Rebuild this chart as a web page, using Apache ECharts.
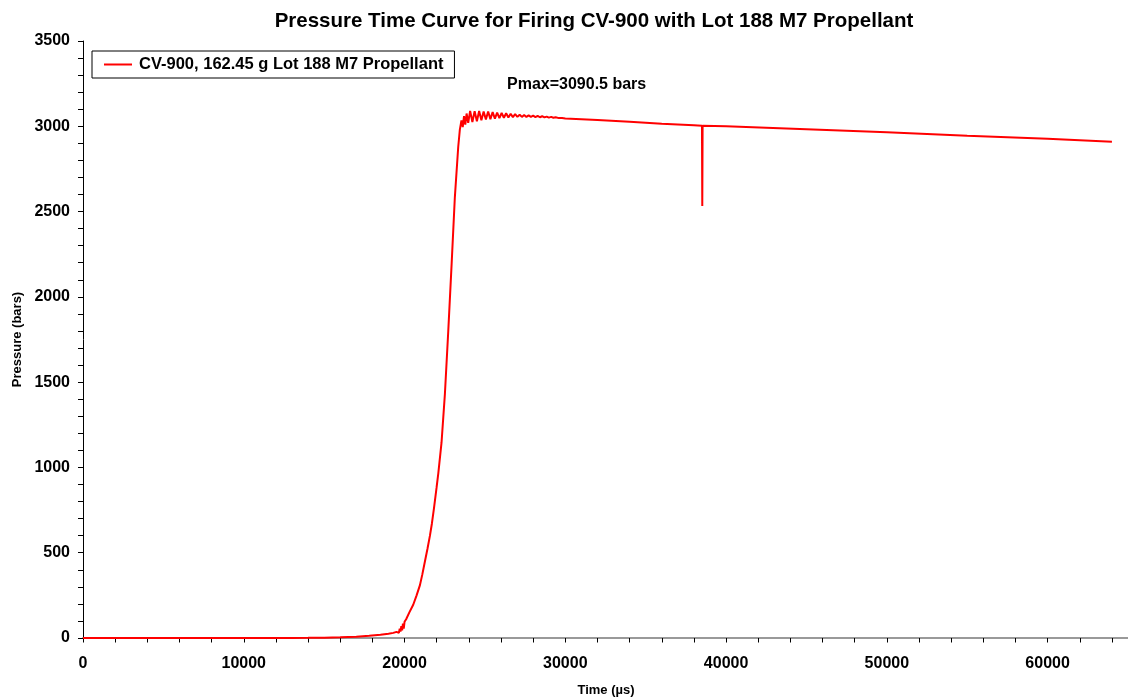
<!DOCTYPE html>
<html>
<head>
<meta charset="utf-8">
<script src="https://cdn.jsdelivr.net/npm/echarts@6/dist/echarts.min.js"></script>
<style>
html,body{margin:0;padding:0;background:#fff;}
#chart{width:1128px;height:700px;}
</style>
</head>
<body>
<div id="chart"></div>
<script>
// ---- data (time in µs, pressure in bars) ----
const chartTitle = "Pressure Time Curve for Firing CV-900 with Lot 188 M7 Propellant";
const seriesName = "CV-900, 162.45 g Lot 188 M7 Propellant";
const annotation = "Pmax=3090.5 bars";
const xAxisName = "Time (µs)";
const yAxisName = "Pressure (bars)";

const riseTime = [0, 10000, 13000, 14000, 15000, 16000, 17000, 17800, 18500, 19000, 19300, 19500,
  19600, 19650, 19700, 19750, 19800, 19850, 19900, 19950, 20000, 20100, 20300, 20540, 20750, 20958,
  21100, 21270, 21430, 21580, 21700, 21830, 21990, 22100, 22300, 22510, 22720, 22930, 23130, 23340,
  23400, 23440];
const risePressure = [0, 0, 0.5, 1, 2, 4, 8, 13, 19, 25, 30, 36,
  42, 30, 55, 38, 70, 45, 85, 55, 95, 110, 150, 195, 250, 310,
  370, 450, 525, 600, 670, 760, 880, 965, 1145, 1430, 1800, 2195, 2585, 2880,
  2940, 2980];

const peakTime = [23540, 23620, 23700, 23780, 23860, 23960, 24080, 24220, 24360, 24500, 24640, 24780,
  24920, 25060, 25200, 25340, 25480, 25620, 25760, 25900, 26040, 26180, 26320, 26460, 26600, 26740,
  26880, 27020, 27160, 27300, 27440, 27580, 27720, 27860, 28000, 28140, 28280, 28420, 28560, 28700,
  28840, 28980, 29120, 29260, 29400, 29600, 29800, 30000];
const peakPressure = [3035, 2995, 3060, 3010, 3075, 3020, 3090.5, 3025, 3088, 3030, 3090, 3035,
  3086, 3040, 3087, 3042, 3083, 3045, 3080, 3048, 3078, 3050, 3076, 3052, 3073, 3054,
  3071, 3055, 3068, 3055, 3066, 3055, 3064, 3055, 3062, 3054, 3061, 3053, 3059, 3052,
  3057, 3051, 3055, 3050, 3053, 3048, 3048, 3045];

const tailTime = [32000, 34000, 36000, 38000, 38500, 38520, 38540, 40000, 45000, 50000, 55000, 60000, 64000];
const tailPressure = [3037, 3027, 3015, 3006, 3003, 2532, 3003, 3000, 2983, 2965, 2945, 2927, 2910];

const xTicks = [0, 10000, 20000, 30000, 40000, 50000, 60000];
const yTicks = [0, 500, 1000, 1500, 2000, 2500, 3000, 3500];

// ---- build ----
const allTime = riseTime.concat(peakTime, tailTime);
const allPressure = risePressure.concat(peakPressure, tailPressure);
const seriesData = allTime.map((t, i) => [t, allPressure[i]]);

const FONT = "'Liberation Sans', Arial, Helvetica, sans-serif";
const chart = echarts.init(document.getElementById('chart'), null, {renderer: 'canvas'});
chart.setOption({
  animation: false,
  backgroundColor: '#fff',
  grid: {left: 83, top: 41, bottom: 62, right: 0},
  title: {
    text: chartTitle,
    left: 589, top: 6, textAlign: 'center',
    textStyle: {fontFamily: FONT, fontSize: 20.5, fontWeight: 'bold', color: '#000'}
  },
  legend: {
    left: 92, top: 51,
    data: [{name: seriesName, icon: 'rect'}],
    itemWidth: 28, itemHeight: 2, itemGap: 0,
    padding: [5, 11, 5, 12],
    borderColor: '#000', borderWidth: 1, borderRadius: 0,
    backgroundColor: '#fff',
    textStyle: {fontFamily: FONT, fontSize: 16.5, fontWeight: 'bold', color: '#000', padding: [0, 0, 0, 2]}
  },
  graphic: [{
    type: 'text', left: 507, top: 77,
    style: {text: annotation, font: "bold 16px " + FONT, fill: '#000'}
  }, {
    type: 'text', x: 606, y: 690,
    style: {text: xAxisName, font: "bold 13px " + FONT, fill: '#000', align: 'center', verticalAlign: 'middle'}
  }],
  xAxis: [{
    type: 'value', min: 0, max: 65000, interval: 2000,
    axisLine: {show: true, onZero: false, lineStyle: {color: '#000', width: 1}},
    axisTick: {show: true, inside: false, length: 4.5, lineStyle: {color: '#000'}},
    splitLine: {show: false},
    axisLabel: {margin: 18, fontFamily: FONT, fontSize: 16, fontWeight: 'bold', color: '#000',
      showMaxLabel: false,
      formatter: v => xTicks.indexOf(v) >= 0 ? String(v) : ''}
  }, {
    type: 'value', min: 0, max: 65000, position: 'top',
    axisLine: {show: true, lineStyle: {color: '#999', width: 2}},
    axisTick: {show: false}, axisLabel: {show: false}, splitLine: {show: false}
  }],
  yAxis: {
    type: 'value', min: 0, max: 3500, interval: 500,
    name: yAxisName, nameLocation: 'middle', nameGap: 59,
    nameTextStyle: {fontFamily: FONT, fontSize: 13, fontWeight: 'bold', color: '#000'},
    axisLine: {show: true, lineStyle: {color: '#000', width: 1}},
    axisTick: {show: true, inside: false, length: 5, lineStyle: {color: '#000'}},
    minorTick: {show: true, splitNumber: 5, length: 5, lineStyle: {color: '#000'}},
    splitLine: {show: false},
    axisLabel: {margin: 13, fontFamily: FONT, fontSize: 16, fontWeight: 'bold', color: '#000',
      formatter: v => yTicks.indexOf(v) >= 0 ? String(v) : ''}
  },
  series: [{
    name: seriesName, type: 'line', data: seriesData,
    showSymbol: false, symbol: 'none',
    lineStyle: {color: '#ff0000', width: 2},
    itemStyle: {color: '#ff0000'},
    clip: true
  }]
});
</script>
</body>
</html>
